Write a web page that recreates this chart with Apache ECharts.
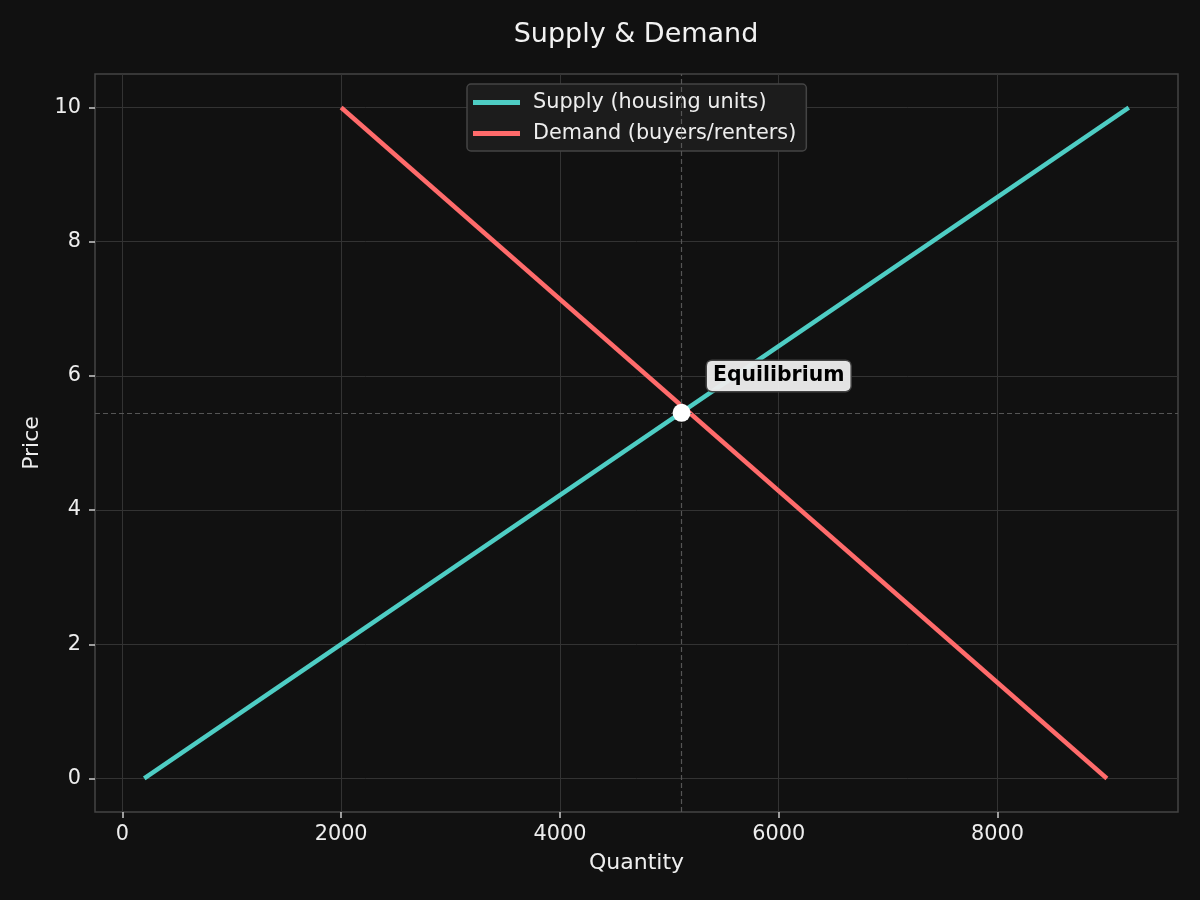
<!DOCTYPE html>
<html>
<head>
<meta charset="utf-8">
<title>Supply & Demand</title>
<script src="https://cdn.jsdelivr.net/npm/echarts@6/dist/echarts.min.js"></script>
<style>
  html, body { margin: 0; padding: 0; background: #111111; }
  #chart { width: 1200px; height: 900px; }
</style>
</head>
<body>
<div id="chart"></div>
<script>
// data
const supplyQty = [200, 9200]
const supplyPrice = [0, 10]
const demandQty = [2000, 9000]
const demandPrice = [10, 0]
const equilibrium = [5112, 5.45]
const annotationAt = [6000, 6.0]

const xTicks = [0, 2000, 4000, 6000, 8000]
const yTicks = [0, 2, 4, 6, 8, 10]

const font = 'DejaVu Sans'
const supplyColor = '#4ECDC4'
const demandColor = '#FF6B6B'

const chart = echarts.init(document.getElementById('chart'), null, { renderer: 'canvas' })

let toPairs = function(xs, ys) {
  return xs.map((x, i) => [x, ys[i]])
}

let axisCommon = {
  axisLine: { show: false, onZero: false },
  axisTick: { show: true, inside: false, length: 6, lineStyle: { color: '#cccccc', width: 1.5 } },
  axisLabel: { color: '#eeeeee', fontSize: 20.8, fontFamily: font, formatter: v => String(v) },
  splitLine: { show: true, lineStyle: { color: '#333333', width: 1 } },
  nameTextStyle: { color: '#eeeeee', fontSize: 22, fontFamily: font },
}

let option = {
  backgroundColor: '#111111',
  animation: false,
  title: {
    text: 'Supply & Demand',
    left: 631,
    top: 16,
    textAlign: 'center',
    textStyle: { color: '#f2f2f2', fontSize: 27, fontWeight: 'normal', fontFamily: font }
  },
  legend: {
    data: ['Supply (housing units)', 'Demand (buyers/renters)'],
    orient: 'vertical',
    left: 467,
    top: 84,
    icon: 'rect',
    itemWidth: 47,
    itemHeight: 5,
    itemGap: 10,
    padding: [8, 10, 7, 6],
    backgroundColor: '#1c1c1c',
    borderColor: '#444444',
    borderWidth: 1.5,
    borderRadius: 4,
    textStyle: { color: '#eeeeee', fontSize: 20.8, fontFamily: font, padding: [0, 0, 0, 8] }
  },
  grid: {
    left: 95,
    right: 22,
    top: 74,
    bottom: 88,
    show: true,
    borderColor: '#444444',
    borderWidth: 1.5,
    backgroundColor: '#111111'
  },
  xAxis: Object.assign({}, axisCommon, {
    type: 'value',
    min: -250,
    max: 9650,
    name: 'Quantity',
    nameLocation: 'middle',
    nameGap: 40,
    axisTick: Object.assign({}, axisCommon.axisTick, { customValues: xTicks }),
    axisLabel: Object.assign({}, axisCommon.axisLabel, { customValues: xTicks, margin: 12 }),
  }),
  yAxis: Object.assign({}, axisCommon, {
    type: 'value',
    min: -0.5,
    max: 10.5,
    name: 'Price',
    nameLocation: 'middle',
    nameGap: 50,
    axisTick: Object.assign({}, axisCommon.axisTick, { customValues: yTicks }),
    axisLabel: Object.assign({}, axisCommon.axisLabel, { customValues: yTicks, margin: 14, padding: [3, 0, 0, 0] }),
  }),
  series: [
    {
      name: 'Supply (housing units)',
      type: 'line',
      data: toPairs(supplyQty, supplyPrice),
      showSymbol: false,
      color: supplyColor,
      lineStyle: { color: supplyColor, width: 4.5 },
      z: 3,
      markLine: {
        silent: true,
        symbol: 'none',
        label: { show: false },
        lineStyle: { color: '#555555', width: 1.2, type: [5, 3] },
        data: [{ xAxis: equilibrium[0] }, { yAxis: equilibrium[1] }]
      }
    },
    {
      name: 'Demand (buyers/renters)',
      type: 'line',
      data: toPairs(demandQty, demandPrice),
      showSymbol: false,
      color: demandColor,
      lineStyle: { color: demandColor, width: 4.5 },
      z: 4
    },
    {
      name: 'Equilibrium',
      type: 'scatter',
      data: [equilibrium],
      symbolSize: 18,
      itemStyle: { color: '#ffffff', opacity: 1 },
      z: 6
    },
    {
      name: 'annotation',
      type: 'scatter',
      data: [annotationAt],
      symbolSize: 0,
      silent: true,
      itemStyle: { opacity: 1 },
      z: 7,
      label: {
        show: true,
        position: 'inside',
        formatter: 'Equilibrium',
        color: '#000000',
        fontSize: 20.4,
        fontWeight: 'bold',
        fontFamily: font,
        backgroundColor: 'rgba(236,236,236,0.96)',
        borderColor: '#444444',
        borderWidth: 1.5,
        borderRadius: 5,
        padding: [5, 6]
      }
    }
  ]
}

chart.setOption(option)
</script>
</body>
</html>
